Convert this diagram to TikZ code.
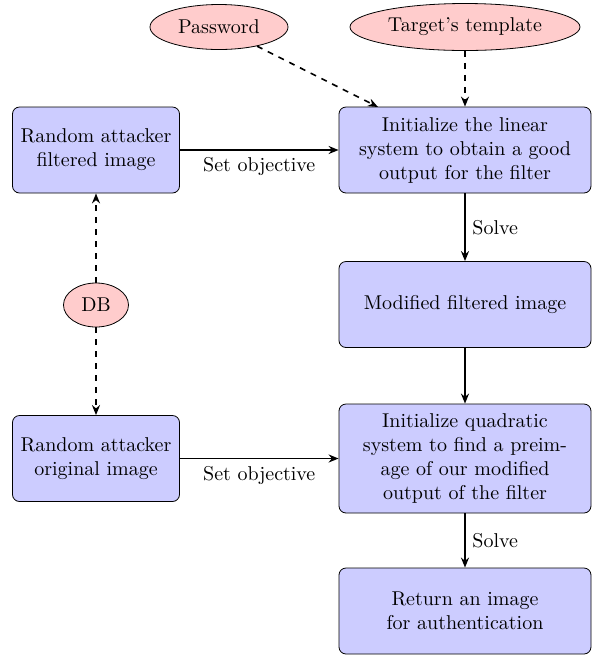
\documentclass[tikz,border=0pt]{standalone}
\usetikzlibrary{arrows.meta,shapes.geometric}
\tikzset{
  blk/.style={draw, fill=blue!20, rounded corners=3.5pt, align=center, inner sep=2pt},
  lblk/.style={blk, minimum width=83.5pt, minimum height=43pt},
  rblk/.style={blk, minimum width=126pt, minimum height=43pt},
  src/.style={draw, ellipse, fill=red!20, inner sep=1pt},
  flow/.style={thick, -{Stealth[length=5pt,width=4pt]}},
  dflow/.style={thick, dashed, -{Stealth[length=5pt,width=4pt]}},
  lab/.style={font=\normalsize}
}
\begin{document}
\begin{tikzpicture}[x=0.5pt,y=-0.5pt]
\useasboundingbox (0,0) rectangle (598,655);
\node[src, minimum width=69pt, minimum height=22.5pt] (pw) at (219,27) {Password};
\node[src, minimum width=115pt, minimum height=23.5pt] (tt) at (465,27) {Target's template};
\node[lblk] (a) at (96,150) {Random attacker\\filtered image};
\node[rblk] (b) at (465,150) {Initialize the linear\\system to obtain a good\\output for the filter};
\node[rblk] (c) at (465,304.5) {Modified filtered image};
\node[rblk, minimum height=54.5pt] (d) at (465,458.5) {Initialize quadratic\\system to find a preim-\\age of our modified\\output of the filter};
\node[rblk] (e) at (465,611) {Return an image\\for authentication};
\node[lblk] (f) at (96,458.5) {Random attacker\\original image};
\node[src, minimum width=32.5pt, minimum height=22pt] (db) at (96,305) {DB};
\coordinate (bt) at (378,107);
\draw[dflow] (pw) -- (bt);
\draw[dflow] (tt) -- (b);
\draw[flow] (a) -- node[lab, below] {Set objective} (b);
\draw[flow] (f) -- node[lab, below] {Set objective} (d);
\draw[flow] (b) -- node[lab, right] {Solve} (c);
\draw[flow] (c) -- (d);
\draw[flow] (d) -- node[lab, right] {Solve} (e);
\draw[dflow] (db) -- (a);
\draw[dflow] (db) -- (f);
\end{tikzpicture}
\end{document}
